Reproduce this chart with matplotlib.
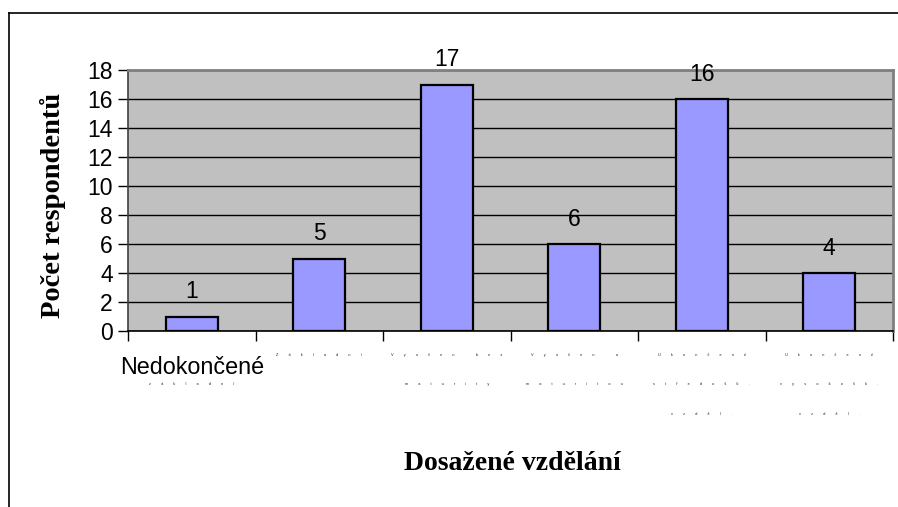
import matplotlib
matplotlib.use("Agg")
import matplotlib.pyplot as plt
from matplotlib.lines import Line2D

# data
categories = ["Nedokončené základní", "Základní", "Vyučen bez maturity",
              "Vyučen s maturitou", "Ukončené středošk. vzděl.",
              "Ukončené vysokošk. vzděl."]
counts = [1, 5, 17, 6, 16, 4]
# label lines as they show up under the axis (first one readable, rest tiny)
label_lines = [
    ["Nedokončené", "základní"],
    ["Základní"],
    ["Vyučen bez", "maturity"],
    ["Vyučen a", "maturitou"],
    ["Ukončené", "středošk.", "vzděl."],
    ["Ukončené", "vysokošk.", "vzděl."],
]
yticks = list(range(0, 19, 2))

fig = plt.figure(figsize=(8.98, 5.07), dpi=100)
fig.patch.set_facecolor("white")

# outer chart frame (top + left only visible)
fig.add_artist(Line2D([9/898, 1.0], [1-13/507, 1-13/507], color="black", lw=1.2))
fig.add_artist(Line2D([9/898, 9/898], [0, 1-13/507], color="black", lw=1.2))

ax = fig.add_axes([128/898, 1-331/507, 765/898, 261/507])
ax.set_facecolor("#C0C0C0")

x = list(range(len(counts)))
ax.bar(x, counts, width=0.41, color="#9999FF", edgecolor="black", linewidth=1.6, zorder=3)
for xi, v in zip(x, counts):
    ax.annotate(str(v), (xi, v), xytext=(0, 9.5), textcoords="offset points",
                ha="center", va="bottom", fontsize=16.5, family="Liberation Sans")

ax.set_xlim(-0.5, len(counts) - 0.5)
ax.set_ylim(0, 18)
ax.set_yticks(yticks)
ax.set_yticklabels([str(t) for t in yticks], fontsize=16.5, family="Liberation Sans")
ax.yaxis.grid(True, color="black", lw=1)
ax.set_axisbelow(True)
ax.tick_params(axis="y", direction="out", length=7, width=1, pad=4)

# category ticks between bars
ax.set_xticks([i + 0.5 for i in range(-1, len(counts))])
ax.set_xticklabels([])
ax.tick_params(axis="x", direction="out", length=7, width=1)

for side in ["top", "right"]:
    ax.spines[side].set_color("#808080")
    ax.spines[side].set_linewidth(2)
ax.spines["left"].set_color("#404040")
ax.spines["bottom"].set_color("black")
ax.spines["left"].set_linewidth(1.2)
ax.spines["bottom"].set_linewidth(1.2)

# category labels
for i, lines in enumerate(label_lines):
    for j, line in enumerate(lines):
        if i == 0 and j == 0:
            ax.annotate(line, (i, 0), xycoords=("data", "axes fraction"),
                        xytext=(0, -26), textcoords="offset points",
                        ha="center", va="center", fontsize=16.8, family="Liberation Sans")
        else:
            tiny = "         ".join(line)
            ax.annotate(tiny, (i, 0), xycoords=("data", "axes fraction"),
                        xytext=(0, -17 - 21.5 * j),
                        textcoords="offset points",
                        ha="center", va="center", fontsize=2.8, color="#222222",
                        family="Liberation Sans")

fig.text(53/898, 1-205/507, "Počet respondentů", rotation=90, ha="center", va="center",
         fontsize=20.5, fontweight="bold", family="Liberation Serif")
fig.text(512/898, 1-463/507, "Dosažené vzdělání", ha="center", va="center",
         fontsize=20, fontweight="bold", family="Liberation Serif")

fig.savefig("out.png", dpi=100)
